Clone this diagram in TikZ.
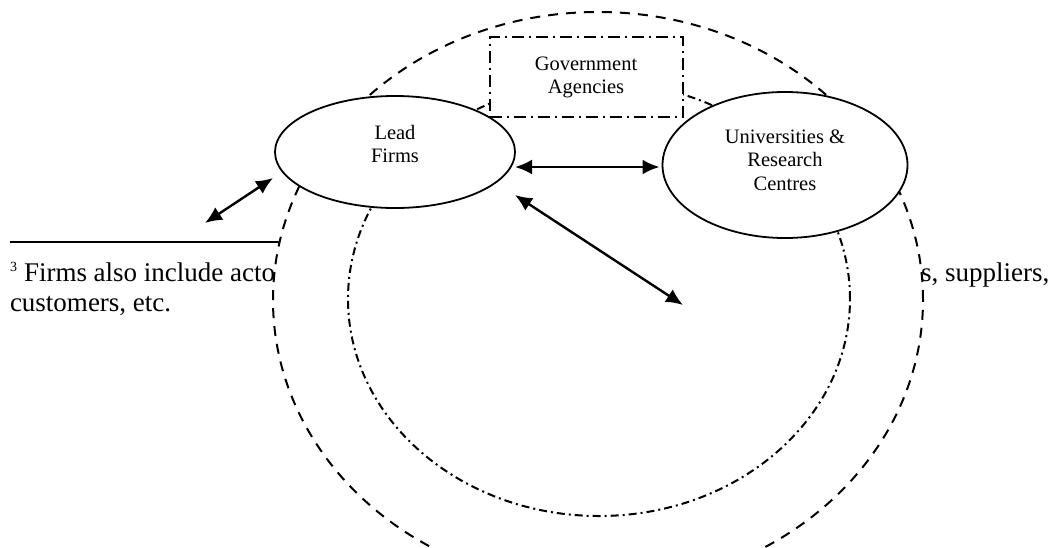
\documentclass[tikz,border=0pt]{standalone}
\usepackage{fontspec}
\setmainfont{Liberation Serif}
\usepackage{tikz}
\usetikzlibrary{positioning}
\usetikzlibrary{shapes.geometric,arrows.meta}
\tikzstyle{line} = [draw, line width=2.4pt, {Latex[length=17pt,width=15pt]}-{Latex[length=17pt,width=15pt]}]

\begin{document}
\begin{tikzpicture}[x=1pt,y=-1pt,outer sep=0pt,
bubble/.style={
  draw,
  fill=white,
  ellipse,
  line width=1.8pt,
  inner sep=0pt,
  align=center,
  font={\fontsize{20.5}{23.5}\selectfont}},
agency/.style={bubble,rectangle,line width=2pt,dash pattern=on 12pt off 5pt on 2pt off 5pt},
region/.style={bubble,line width=2pt,dash pattern=on 10pt off 8pt},
core/.style={bubble,fill=none,line width=2pt,dash pattern=on 8pt off 4pt on 2pt off 4pt},
note/.style={anchor=base west,inner sep=0pt,font={\fontsize{27}{30}\selectfont}},
]
\useasboundingbox (0,0) rectangle (1050,547);
% footnote under the picture
\draw[line width=2pt] (10,242) -- (300,242);
\node[note] (fn) at (10,281) {\raisebox{10pt}{\fontsize{14}{14}\selectfont 3}\hspace{7pt}Firms also include acto};
\node[note] (fnr) at (921,281) {s, suppliers,};
\node[note] (fn2) at (10,311) {customers, etc.};
\coordinate (outside) at (205,223);
\coordinate (leadsw) at (273,178);
\path [line] (outside) -- (leadsw);
% the two rings
\node[region, minimum width=650pt, minimum height=576pt] (outer) at (598,300) {};
\node[core, minimum width=502pt, minimum height=434pt] (inner) at (599,299) {};
\node[agency, minimum width=193pt, minimum height=80pt, text depth=4pt] (gov) at (586,77) {Government\\Agencies};
\node[bubble, minimum width=240pt, minimum height=112pt, text depth=16pt] (lead) at (395,152) {Lead\\Firms};
\node[bubble, minimum width=245pt, minimum height=146pt, text depth=10pt] (uni) at (785,165) {Universities \&\\Research\\Centres};
\coordinate (centre) at (683,305);
\path [line] ([yshift=-15pt]lead.east) -- ([xshift=-3pt,yshift=-2pt]uni.west);
\path [line] ([yshift=-43pt]lead.east) -- (centre);
\end{tikzpicture}
\end{document}
